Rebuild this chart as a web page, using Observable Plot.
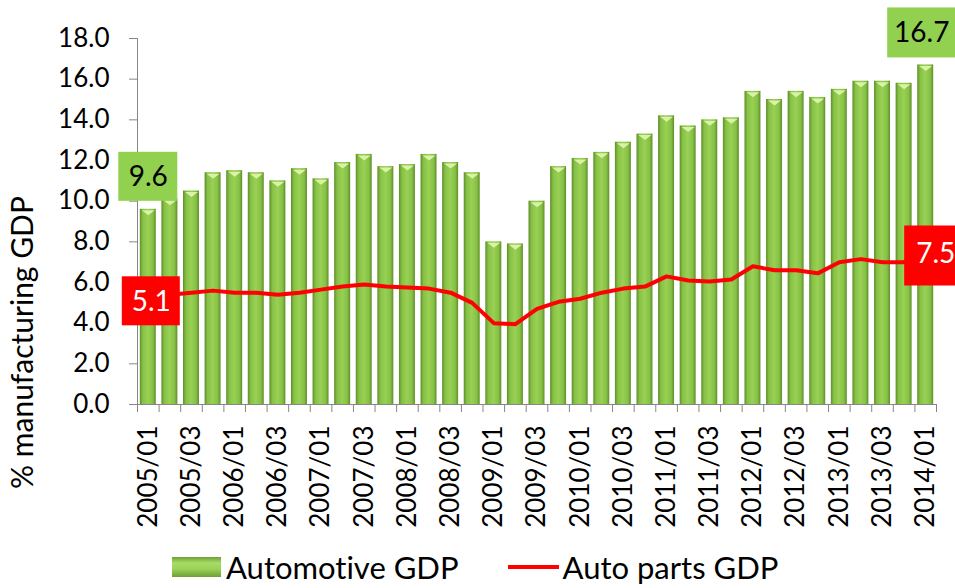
<!DOCTYPE html>
<html>
<head>
<meta charset="utf-8">
<script src="https://cdn.jsdelivr.net/npm/d3@7"></script>
<script src="https://cdn.jsdelivr.net/npm/@observablehq/plot@0.6"></script>
<style>
  body { margin: 0; background: #fff; font-family: Lato, "Open Sans", sans-serif; color: #000; font-variant-ligatures: none; }
  #chart svg { overflow: visible; display: block; font-variant-ligatures: none; }
  #legend { width: 955px; height: 43px; display: flex; align-items: center; padding-left: 172px; box-sizing: border-box; font-size: 31px; }
  .sw-bar { width: 49px; height: 20px; margin-right: 5px; background: linear-gradient(to bottom, #6f9f35 0%, #a8dc66 30%, #9bd257 60%, #6f9f35 100%); }
  .sw-line { width: 51px; height: 4px; background: #ff0000; margin-left: 49px; margin-right: 4px; }
</style>
</head>
<body>
<div id="chart"></div>
<div id="legend"></div>
<script>
// ---------- data ----------
const quarters = [
  "2005/01","2005/02","2005/03","2005/04",
  "2006/01","2006/02","2006/03","2006/04",
  "2007/01","2007/02","2007/03","2007/04",
  "2008/01","2008/02","2008/03","2008/04",
  "2009/01","2009/02","2009/03","2009/04",
  "2010/01","2010/02","2010/03","2010/04",
  "2011/01","2011/02","2011/03","2011/04",
  "2012/01","2012/02","2012/03","2012/04",
  "2013/01","2013/02","2013/03","2013/04",
  "2014/01"
];
const xTickLabels = [
  "2005/01","2005/03","2006/01","2006/03","2007/01","2007/03","2008/01","2008/03",
  "2009/01","2009/03","2010/01","2010/03","2011/01","2011/03","2012/01","2012/03",
  "2013/01","2013/03","2014/01"
];
const automotiveGDP = [
  9.6, 10.1, 10.5, 11.4, 11.5, 11.4, 11.0, 11.6, 11.1, 11.9, 12.3, 11.7, 11.8,
  12.3, 11.9, 11.4, 8.0, 7.9, 10.0, 11.7, 12.1, 12.4, 12.9, 13.3, 14.2, 13.7,
  14.0, 14.1, 15.4, 15.0, 15.4, 15.1, 15.5, 15.9, 15.9, 15.8, 16.7
];
const autoPartsGDP = [
  5.1, 5.4, 5.5, 5.6, 5.5, 5.5, 5.4, 5.5, 5.65, 5.8, 5.9, 5.8, 5.75,
  5.7, 5.5, 5.0, 4.0, 3.95, 4.7, 5.05, 5.2, 5.5, 5.7, 5.8, 6.3, 6.1,
  6.05, 6.15, 6.8, 6.6, 6.6, 6.45, 7.0, 7.15, 7.0, 7.0, 7.5
];
const yTicks = [0, 2, 4, 6, 8, 10, 12, 14, 16, 18];
const seriesNames = ["Automotive GDP", "Auto parts GDP"];
const yTitle = "% manufacturing GDP";

// ---------- layout / style ----------
const W = 955, H = 545, mL = 137, mR = 19, mT = 38, mB = 141;
const step = (W - mL - mR) / quarters.length;
const padIn = 0.26;
const bw = step * (1 - padIn);
const axisGray = "#868686";
const boxGreen = "#92d050";
const red = "#ff0000";
const fmt = d3.format(".1f");

const rows = quarters.map((q, i) => ({q, auto: automotiveGDP[i], parts: autoPartsGDP[i]}));
const firstRow = rows[0], lastRow = rows[rows.length - 1];

const topTri = {draw(ctx) { ctx.moveTo(-6.5, 0); ctx.lineTo(6.5, 0); ctx.lineTo(0, 5); ctx.closePath(); }};

function callout(row, key, o) {
  return [
    Plot.barY([row], {
      x: "q", y1: d => d[key], y2: d => d[key], fill: o.fill, dx: o.dx,
      insetLeft: bw / 2 - o.half, insetRight: bw / 2 - o.half,
      insetTop: o.top, insetBottom: o.bottom
    }),
    Plot.text([row], {
      x: "q", y: d => d[key], text: d => fmt(d[key]), fill: o.color,
      dx: o.dx, dy: o.dy, fontSize: 28, lineAnchor: "middle", textAnchor: "middle"
    })
  ];
}

const chart = Plot.plot({
  width: W, height: H,
  marginLeft: mL, marginRight: mR, marginTop: mT, marginBottom: mB,
  style: {fontFamily: "Lato, 'Open Sans', sans-serif", color: "#000", background: "transparent", overflow: "visible"},
  x: {type: "band", domain: quarters, paddingInner: padIn, paddingOuter: padIn / 2, align: 0.5, round: false, label: null},
  y: {domain: [0, 18], label: null},
  marks: [
    // bars
    Plot.barY(rows, {x: "q", y: "auto", fill: "url(#barGrad)"}),
    Plot.dot(rows, {x: "q", y: "auto", symbol: topTri, fill: "#d9f2a6", stroke: "none", dy: 1}),
    // axes
    Plot.ruleY([0], {stroke: axisGray, strokeWidth: 1}),
    Plot.ruleX([firstRow], {x: "q", y1: 0, y2: 18, dx: -step / 2, stroke: axisGray}),
    Plot.axisY({ticks: yTicks, tickFormat: fmt, tickSize: 8, tickPadding: 20, fontSize: 26, stroke: axisGray, fill: "#000", label: null}),
    Plot.axisX({ticks: quarters, tickSize: 8, tickFormat: () => "", dx: -step / 2, stroke: axisGray, label: null}),
    Plot.axisX({ticks: [lastRow.q], tickSize: 8, tickFormat: () => "", dx: step / 2, stroke: axisGray, label: null}),
    Plot.text(xTickLabels, {x: d => d, y: 0, text: d => d, rotate: -90, textAnchor: "end", lineAnchor: "middle", dy: 21, fontSize: 26, fill: "#000"}),
    Plot.text([yTitle], {frameAnchor: "left", text: d => d, rotate: -90, dx: -114, dy: 121, fontSize: 30, fill: "#000", lineAnchor: "middle", textAnchor: "middle"}),
    // line
    Plot.line(rows, {x: "q", y: "parts", stroke: red, strokeWidth: 4, strokeLinejoin: "round", strokeLinecap: "round"}),
    // callouts
    ...callout(firstRow, "auto", {fill: boxGreen, color: "#000", half: 29.5, top: -57, bottom: 8, dx: 0, dy: -32.5}),
    ...callout(lastRow, "auto", {fill: boxGreen, color: "#000", half: 34, top: -57, bottom: 7, dx: -4, dy: -32}),
    ...callout(firstRow, "parts", {fill: red, color: "#fff", half: 29, top: -24, bottom: -25, dx: 3, dy: 1}),
    ...callout(lastRow, "parts", {fill: red, color: "#fff", half: 31, top: -26, bottom: -34, dx: 10, dy: 2})
  ]
});

// gradient definition for the 3D-looking bars
const ns = "http://www.w3.org/2000/svg";
const defs = document.createElementNS(ns, "defs");
defs.innerHTML = `<linearGradient id="barGrad" x1="0" x2="1" y1="0" y2="0">
  <stop offset="0" stop-color="#5e8e28"/>
  <stop offset="0.18" stop-color="#86c045"/>
  <stop offset="0.5" stop-color="#98d154"/>
  <stop offset="0.82" stop-color="#86c045"/>
  <stop offset="1" stop-color="#5e8e28"/>
</linearGradient>`;
chart.insertBefore(defs, chart.firstChild);
document.getElementById("chart").appendChild(chart);

// legend
const legend = document.getElementById("legend");
legend.innerHTML = `<div class="sw-bar"></div><span>${seriesNames[0]}</span><div class="sw-line"></div><span>${seriesNames[1]}</span>`;
</script>
</body>
</html>
